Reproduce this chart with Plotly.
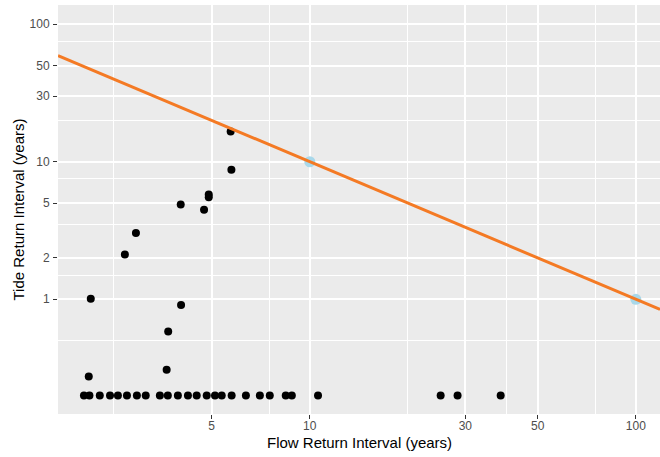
import numpy as np
import plotly.graph_objects as go

# --- data ---
flow_scatter = [5.72, 5.75, 4.90, 4.90, 4.02, 4.74, 2.93, 2.71, 2.13, 4.03, 3.68, 3.64, 2.10]
tide_scatter = [16.6, 8.75, 5.77, 5.51, 4.88, 4.47, 3.04, 2.12, 1.01, 0.91, 0.583, 0.307, 0.274]

flow_floor = [2.03, 2.11, 2.27, 2.44, 2.58, 2.75, 2.95, 3.14, 3.47, 3.67, 3.94, 4.23,
              4.50, 4.83, 5.12, 5.37, 5.76, 6.37, 7.03, 7.54, 8.44, 8.81, 10.6, 25.2, 28.4, 38.5]
tide_floor = [0.2] * len(flow_floor)

design_flow = [10, 100]
design_tide = [10, 1]

joint_product = 100  # line: tide = joint_product / flow

x_ticks = [5, 10, 30, 50, 100]
x_minor = [2.5, 7.5, 20, 40, 75]
y_ticks = [1, 2, 5, 10, 30, 50, 100]
y_minor = [0.5, 1.5, 3.5, 7.5, 20, 75]

x_range = [1.69, 118.6]
y_range = [0.1465, 138]

flow = flow_scatter + flow_floor
tide = tide_scatter + tide_floor

line_x = np.array(x_range)
line_y = joint_product / line_x

FONT = "Liberation Sans, Arial, sans-serif"

fig = go.Figure()
fig.add_trace(go.Scatter(x=flow, y=tide, mode="markers",
                         marker=dict(color="black", size=8, line=dict(width=0)),
                         showlegend=False, hoverinfo="skip"))
fig.add_trace(go.Scatter(x=design_flow, y=design_tide, mode="markers",
                         marker=dict(color="#A8D8EA", size=11, line=dict(width=0)),
                         showlegend=False, hoverinfo="skip"))
fig.add_trace(go.Scatter(x=line_x, y=line_y, mode="lines",
                         line=dict(color="#F47A24", width=3),
                         showlegend=False, hoverinfo="skip"))

axis_common = dict(
    type="log",
    automargin=False,
    showline=False,
    zeroline=False,
    gridcolor="white",
    gridwidth=1.6,
    ticks="outside",
    ticklen=4,
    tickwidth=1,
    tickcolor="#333333",
    tickfont=dict(family=FONT, size=12, color="#4D4D4D"),
)

fig.update_xaxes(
    **axis_common,
    range=[np.log10(x_range[0]), np.log10(x_range[1])],
    tickmode="array",
    tickvals=x_ticks,
    ticktext=[str(v) for v in x_ticks],
    ticklabelstandoff=-3,
    minor=dict(tickmode="array", tickvals=x_minor, showgrid=True,
               gridcolor="white", gridwidth=0.8, ticks=""),
)
fig.update_yaxes(
    **axis_common,
    range=[np.log10(y_range[0]), np.log10(y_range[1])],
    tickmode="array",
    tickvals=y_ticks,
    ticktext=[str(v) for v in y_ticks],
    ticklabelstandoff=1,
    minor=dict(tickmode="array", tickvals=y_minor, showgrid=True,
               gridcolor="white", gridwidth=0.8, ticks=""),
)

fig.add_annotation(text="Flow Return Interval (years)", xref="paper", yref="paper",
                   x=0.5, y=0, yshift=-28, xanchor="center", yanchor="middle",
                   showarrow=False, font=dict(family=FONT, size=15, color="black"))
fig.add_annotation(text="Tide Return Interval (years)", xref="paper", yref="paper",
                   x=0, y=0.5, xshift=-40, textangle=-90, xanchor="center", yanchor="middle",
                   showarrow=False, font=dict(family=FONT, size=15, color="black"))

fig.update_layout(
    width=660, height=457,
    margin=dict(l=58, r=0, t=5, b=43),
    plot_bgcolor="#EBEBEB",
    paper_bgcolor="white",
    showlegend=False,
)

fig.write_html("out.html",
               config={"displayModeBar": False},
               post_script="document.body.style.margin='0';document.body.style.overflow='hidden';")
